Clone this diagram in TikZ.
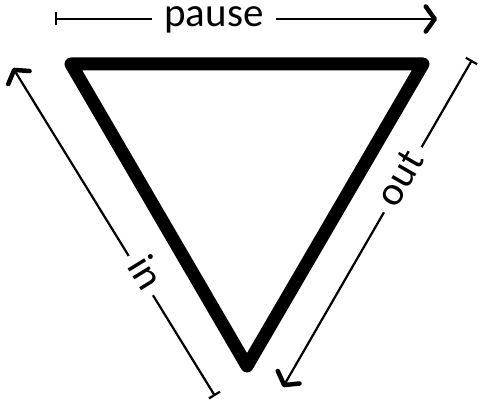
\documentclass[tikz,border=0pt]{standalone}
\usepackage{fontspec}
\setmainfont{Carlito}
\usetikzlibrary{arrows.meta}
\begin{document}
\begin{tikzpicture}[x=1pt,y=-1pt,
  lbl/.style={fill=white, inner ysep=0pt, anchor=base, font=\fontsize{41}{44}\selectfont},
  dim/.style={line width=2.2pt, {Bar[width=13pt,line width=2.2pt]}-{Straight Barb[length=9pt,width=25pt,line width=4.5pt,round]}},
  tri/.style={line width=13pt, line join=round}]
\useasboundingbox (0,0) rectangle (483,409);
\coordinate (A) at (71,64);
\coordinate (B) at (423,64);
\coordinate (C) at (247,366);
\draw[tri] (A) -- (B) -- (C) -- cycle;
% pause
\coordinate (p1) at (55,19);
\coordinate (p2) at (437,19);
\draw[dim] (p1) -- (p2);
\node[lbl, inner xsep=12pt] (pause) at (214,27) {pause};
% in
\coordinate (i1) at (215,396);
\coordinate (i2) at (13,68);
\draw[dim] (i1) -- (i2);
\node[lbl, inner xsep=7.5pt, rotate=-58.4] (in) at (134.5,279.5) {in};
% out
\coordinate (o1) at (472,60);
\coordinate (o2) at (283,387);
\draw[dim] (o1) -- (o2);
\node[lbl, inner xsep=9pt, rotate=60] (out) at (411,184.5) {out};
\end{tikzpicture}
\end{document}
